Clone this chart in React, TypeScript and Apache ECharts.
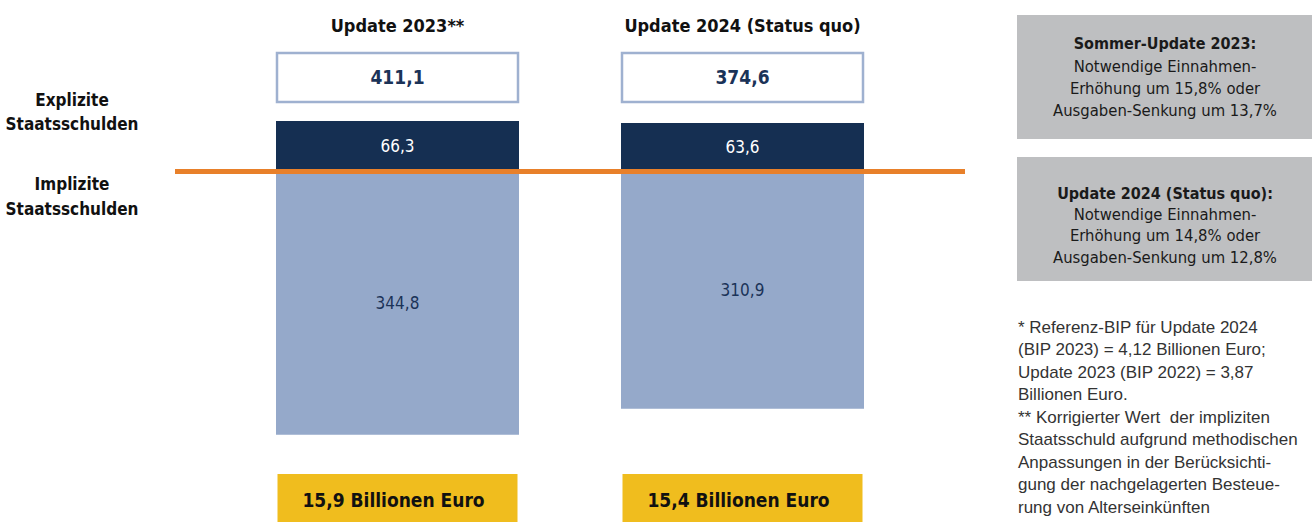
import React, { useEffect, useRef } from "react";
import * as echarts from "echarts";

const categories = ["Update 2023**", "Update 2024 (Status quo)"];
const explicitDebt = [66.3, 63.6];
const implicitDebt = [344.8, 310.9];
const totals = [411.1, 374.6];
const totalsTrillion = [15.9, 15.4];
const leftLabels = [["Explizite", "Staatsschulden"], ["Implizite", "Staatsschulden"]];
const boxTitles = ["Sommer-Update 2023:", "Update 2024 (Status quo):"];
const boxLines = [
  ["Notwendige Einnahmen-", "Erhöhung um 15,8% oder", "Ausgaben-Senkung um 13,7%"],
  ["Notwendige Einnahmen-", "Erhöhung um 14,8% oder", "Ausgaben-Senkung um 12,8%"],
];
const footnotes = [
  "* Referenz-BIP für Update 2024",
  "(BIP 2023) = 4,12 Billionen Euro;",
  "Update 2023 (BIP 2022) = 3,87",
  "Billionen Euro.",
  "** Korrigierter Wert  der impliziten",
  "Staatsschuld aufgrund methodischen",
  "Anpassungen in der Berücksichti-",
  "gung der nachgelagerten Besteue-",
  "rung von Alterseinkünften",
];

const COND = "'Liberation Sans Narrow', 'DejaVu Sans Condensed', 'Roboto Condensed', sans-serif";
const SANS = "'Liberation Sans', Arial, Helvetica, sans-serif";
const NAVY = "#152f52";
const LIGHT = "#95a9ca";
const ORANGE = "#e8802a";
const fmt = (v: number) => Math.abs(v).toFixed(1).replace(".", ",");

const Y_MIN = -400;
const Y_MAX = 100;
const GRID_TOP = 95.15;
const GRID_H = 381.75;

export default function App() {
  const ref = useRef<HTMLDivElement>(null);
  useEffect(() => {
    if (!ref.current) return;
    const chart = echarts.init(ref.current, null, { renderer: "svg" });
    const option: any = {
      animation: false,
      grid: [
        { left: 225, width: 690, top: GRID_TOP, height: GRID_H },
        { left: 175, width: 790, top: GRID_TOP, height: GRID_H },
      ],
      xAxis: [
        { type: "category", data: categories, gridIndex: 0, show: false },
        { type: "value", gridIndex: 1, min: 0, max: 1, show: false },
      ],
      yAxis: [
        { type: "value", gridIndex: 0, min: Y_MIN, max: Y_MAX, show: false },
        { type: "value", gridIndex: 1, min: Y_MIN, max: Y_MAX, show: false },
      ],
      series: [
        {
          type: "bar",
          name: "Explizite Staatsschulden",
          stack: "debt",
          barWidth: 243,
          data: explicitDebt,
          itemStyle: { color: NAVY },
          label: {
            show: true,
            position: "inside",
            color: "#ffffff",
            fontFamily: COND,
            fontSize: 17,
            formatter: (p: any) => fmt(p.value),
          },
        },
        {
          type: "bar",
          name: "Implizite Staatsschulden",
          stack: "debt",
          barWidth: 243,
          data: implicitDebt.map((v) => -v),
          itemStyle: { color: LIGHT },
          label: {
            show: true,
            position: "inside",
            color: "#1b3358",
            fontFamily: COND,
            fontSize: 17,
            formatter: (p: any) => fmt(p.value),
          },
        },
        {
          type: "line",
          xAxisIndex: 1,
          yAxisIndex: 1,
          data: [[0, 0], [1, 0]],
          symbol: "none",
          z: 5,
          lineStyle: { color: ORANGE, width: 5 },
        },
      ],
    };
    chart.setOption(option);

    const cx = categories.map((c) => chart.convertToPixel({ xAxisIndex: 0 }, c) as number);
    const graphics: any[] = [];
    const bw = 243;
    cx.forEach((x, i) => {
      graphics.push({
        type: "text",
        x,
        y: 25,
        style: {
          text: categories[i],
          fill: "#111",
          font: `bold 18px ${COND}`,
          align: "center",
          verticalAlign: "middle",
        },
      });
      graphics.push({
        type: "rect",
        shape: { x: x - bw / 2 + 1, y: 53, width: bw - 2, height: 49 },
        style: { fill: "#fff", stroke: "#9fb1d0", lineWidth: 2.5 },
      });
      graphics.push({
        type: "text",
        x,
        y: 77,
        style: {
          text: fmt(totals[i]),
          fill: "#1b3358",
          font: `bold 19px ${COND}`,
          align: "center",
          verticalAlign: "middle",
        },
      });
      graphics.push({
        type: "rect",
        shape: { x: x - bw / 2 + 1.5, y: 474, width: bw - 3, height: 60 },
        style: { fill: "#f0bd1e" },
      });
      graphics.push({
        type: "text",
        x: x - 4,
        y: 500,
        style: {
          text: `${fmt(totalsTrillion[i])} Billionen Euro`,
          fill: "#111",
          font: `bold 19px ${COND}`,
          align: "center",
          verticalAlign: "middle",
        },
      });
    });
    const leftY = [[100, 124], [184, 209]];
    leftLabels.forEach((lines, i) => {
      lines.forEach((t, j) => {
        graphics.push({
          type: "text",
          x: 72,
          y: leftY[i][j],
          style: {
            text: t,
            fill: "#111",
            font: `bold 17px ${COND}`,
            align: "center",
            verticalAlign: "middle",
          },
        });
      });
    });
    const boxTop = [15, 157];
    const boxLineY = [[43, 66, 88, 110], [193, 214, 235, 257]];
    boxTitles.forEach((title, i) => {
      graphics.push({
        type: "rect",
        shape: { x: 1017, y: boxTop[i], width: 295, height: 124 },
        style: { fill: "#bebfc1" },
      });
      [title, ...boxLines[i]].forEach((t, j) => {
        graphics.push({
          type: "text",
          x: 1165,
          y: boxLineY[i][j],
          style: {
            text: t,
            fill: "#1a1a1a",
            font: `${j === 0 ? "bold 16px" : "16.5px"} ${COND}`,
            align: "center",
            verticalAlign: "middle",
          },
        });
      });
    });
    footnotes.forEach((t, j) => {
      graphics.push({
        type: "text",
        x: 1018,
        y: 327 + j * 22.5,
        style: {
          text: t,
          fill: "#333",
          font: `17px ${SANS}`,
          align: "left",
          verticalAlign: "middle",
        },
      });
    });
    chart.setOption({ graphic: graphics });
    return () => chart.dispose();
  }, []);
  return <div ref={ref} style={{ width: 1312, height: 522, position: "absolute", left: 0, top: 0 }} />;
}
